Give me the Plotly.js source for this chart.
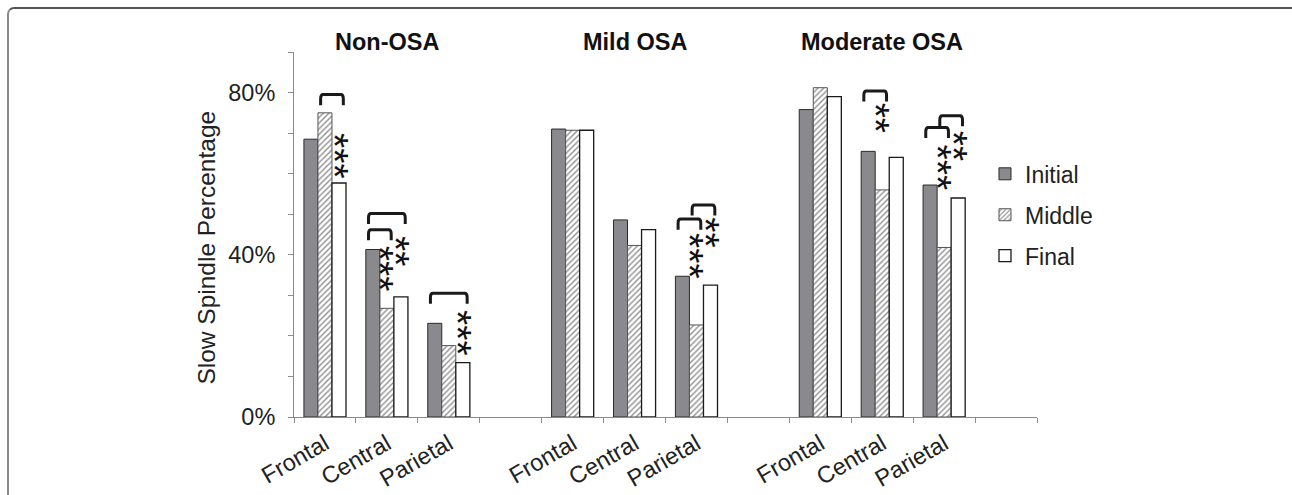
<!DOCTYPE html>
<html>
<head>
<meta charset="utf-8">
<script src="https://cdn.plot.ly/plotly-3.0.1.min.js"></script>
<style>
  html, body { margin: 0; padding: 0; background: #fff; overflow: hidden; }
  #chart { width: 1292px; height: 495px; position: absolute; left: 0; top: 0; }
  #frame { position: absolute; left: 7px; top: 7px; width: 1300px; height: 600px;
           border-top: 2px solid #555; border-left: 2px solid #8a8a8a;
           border-top-left-radius: 7px; pointer-events: none; }
</style>
</head>
<body>
<div id="chart"></div>
<div id="frame"></div>
<script>
// ---- data ----
const groups = ['Non-OSA', 'Mild OSA', 'Moderate OSA'];
const regions = ['Frontal', 'Central', 'Parietal'];
const seriesNames = ['Initial', 'Middle', 'Final'];
const yTitle = 'Slow Spindle Percentage';
// values in % : order Non-OSA (F,C,P), Mild (F,C,P), Moderate (F,C,P)
const initialVals = [68.5, 41.3, 23.1, 71.0, 48.6, 34.7, 75.8, 65.5, 57.2];
const middleVals  = [75.0, 26.8, 17.6, 70.7, 42.3, 22.7, 81.2, 56.0, 41.8];
const finalVals   = [57.7, 29.6, 13.4, 70.7, 46.2, 32.5, 79.0, 64.0, 54.0];
const yTicks = [0, 40, 80];
// significance brackets: [group, region, fromBar, toBar, top %]
const brackets = [
  [0, 0, 1, 2, 79.5],
  [0, 1, 0, 2, 50.2],
  [0, 1, 0, 1, 46.2],
  [0, 2, 0, 2, 30.5],
  [1, 2, 0, 1, 48.8],
  [1, 2, 1, 2, 52.3],
  [2, 1, 0, 1, 80.4],
  [2, 2, 0, 1, 71.4],
  [2, 2, 1, 2, 74.3]
];
// significance stars: [group, region, bar, centre %, text]
const stars = [
  [0, 0, 2, 64.4, '***'],
  [0, 1, 1, 36.6, '***'],
  [0, 1, 2, 41.0, '**'],
  [0, 2, 2, 20.8, '***'],
  [1, 2, 1, 39.6, '***'],
  [1, 2, 2, 45.5, '**'],
  [2, 1, 1, 73.8, '**'],
  [2, 2, 1, 61.5, '***'],
  [2, 2, 2, 66.9, '**']
];

// ---- build ----
const FONT = 'Liberation Sans, Arial, sans-serif';
const slot = regions.length + 1;               // one empty slot after each group
const xPos = [];
const xText = [];
groups.forEach((g, gi) => regions.forEach((r, ri) => { xPos.push(gi * slot + ri); xText.push(r); }));
const nSlots = groups.length * slot;

const BARGAP = 0.32;
const bw = (1 - BARGAP) / 3;
const barCenter = (b) => (b - 1) * bw;

const traces = [
  { name: seriesNames[0], y: initialVals, legendgroup: 'a',
    marker: { color: '#8a8a8e', line: { color: '#2a2a2a', width: 1 } } },
  { name: seriesNames[1], y: middleVals, legendgroup: 'b',
    marker: { color: '#ffffff', line: { color: '#555', width: 1 },
              pattern: { shape: '/', fgcolor: '#8f8f8f', bgcolor: '#ffffff', size: 4, solidity: 0.35 } } },
  { name: seriesNames[2], y: finalVals, legendgroup: 'c',
    marker: { color: '#ffffff', line: { color: '#1a1a1a', width: 1.3 } } }
].map(t => Object.assign({ type: 'bar', x: xPos, hoverinfo: 'skip' }, t));

const shapes = brackets.map(([g, r, a, b, top]) => {
  const c = g * slot + r;
  const x0 = c + barCenter(a) - 0.07, x1 = c + barCenter(b) + 0.07;
  const drop = 2.6, ry = 1.0, rx = 0.04;
  return {
    type: 'path', xref: 'x', yref: 'y',
    path: `M${x0},${top - drop} L${x0},${top - ry} Q${x0},${top} ${x0 + rx},${top} ` +
          `L${x1 - rx},${top} Q${x1},${top} ${x1},${top - ry} L${x1},${top - drop}`,
    line: { color: '#1a1a1a', width: 3 }
  };
});

const annotations = [];
groups.forEach((g, gi) => {
  annotations.push({
    text: '<b>' + g + '</b>', x: gi * slot + 1, xref: 'x', y: 1.027, yref: 'paper',
    xanchor: 'center', yanchor: 'middle', showarrow: false,
    font: { family: FONT, size: 23.5, color: '#111' }
  });
});
stars.forEach(([g, r, b, yc, txt]) => {
  annotations.push({
    text: txt, x: g * slot + r + barCenter(b) + (b === 2 ? 0.06 : 0.03), xref: 'x',
    y: yc, yref: 'y', xanchor: 'center', yanchor: 'middle', showarrow: false,
    textangle: 90, xshift: -9,
    font: { family: FONT, size: 39, color: '#111' }
  });
});
// y axis title (placed as in the reference, slightly below plot centre)
annotations.push({
  text: yTitle, xref: 'paper', x: -0.118, yref: 'paper', y: 0.465,
  xanchor: 'center', yanchor: 'middle', showarrow: false, textangle: -90,
  font: { family: FONT, size: 24.5, color: '#222' }
});

const layout = {
  width: 1292, height: 495,
  margin: { l: 294, r: 255, t: 52, b: 78 },
  paper_bgcolor: '#ffffff', plot_bgcolor: '#ffffff',
  barmode: 'group', bargap: BARGAP, bargroupgap: 0,
  font: { family: FONT, color: '#222' },
  showlegend: true,
  legend: { x: 0.93, xanchor: 'left', y: 0.725, yanchor: 'top',
            font: { family: FONT, size: 23, color: '#222' },
            tracegroupgap: 8, bgcolor: 'rgba(0,0,0,0)' },
  xaxis: {
    range: [-0.5, nSlots - 0.5], tickmode: 'array', tickvals: xPos, ticktext: xText,
    tickangle: -30, ticks: '', ticklabelstandoff: 3,
    showline: true, linecolor: '#8a8a8a', linewidth: 1,
    showgrid: false, zeroline: false, automargin: false,
    tickfont: { family: FONT, size: 23.5, color: '#222' },
    minor: { tickmode: 'linear', tick0: -0.5, dtick: 1, ticks: 'outside', ticklen: 5,
             tickcolor: '#8a8a8a', tickwidth: 1, showgrid: false }
  },
  yaxis: {
    range: [0, 90], tickmode: 'array', tickvals: yTicks, ticktext: yTicks.map(v => v + '%'),
    ticks: 'outside', ticklen: 5, tickcolor: '#8a8a8a', ticklabelstandoff: 8,
    showline: true, linecolor: '#8a8a8a', linewidth: 1, showgrid: false, zeroline: false,
    automargin: false,
    tickfont: { family: FONT, size: 23.5, color: '#222' },
    minor: { tickmode: 'linear', tick0: 0, dtick: 10, ticks: 'outside', ticklen: 5,
             tickcolor: '#8a8a8a', tickwidth: 1, showgrid: false }
  },
  shapes: shapes,
  annotations: annotations
};

Plotly.newPlot('chart', traces, layout, { staticPlot: true, displayModeBar: false });
</script>
</body>
</html>
